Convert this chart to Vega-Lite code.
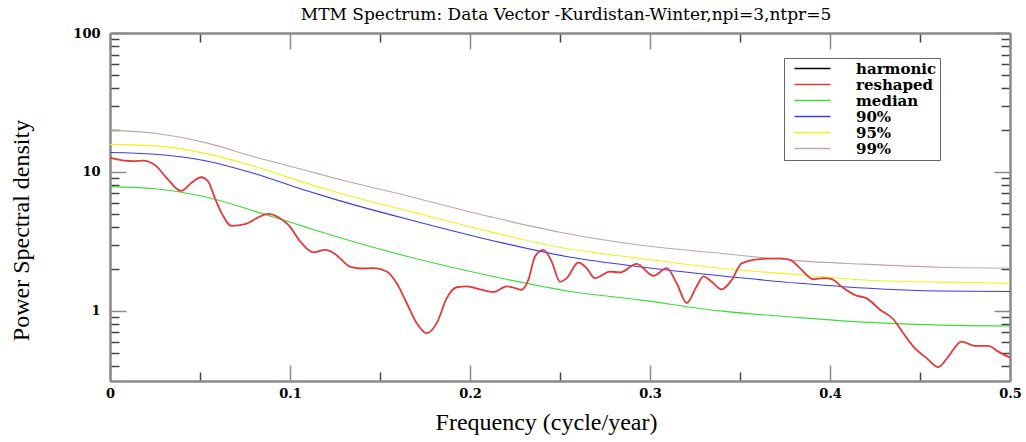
{
  "$schema": "https://vega.github.io/schema/vega-lite/v6.json",
  "width": 900,
  "height": 348,
  "autosize": {"type": "none"},
  "padding": {"left": 110, "top": 33, "right": 16, "bottom": 61},
  "background": "white",
  "title": {
    "text": "MTM Spectrum: Data Vector -Kurdistan-Winter,npi=3,ntpr=5",
    "font": "DejaVu Serif",
    "fontSize": 17,
    "fontWeight": "normal",
    "color": "#000",
    "anchor": "middle",
    "frame": "group",
    "baseline": "alphabetic",
    "offset": 11,
    "dx": 6,
    "dy": 21
  },
  "config": {"view": {"stroke": null}},
  "datasets": {
    "spec": [
      {"s": "99%", "f": 0, "v": 20.0},
      {"s": "99%", "f": 0.025, "v": 19.0},
      {"s": "99%", "f": 0.053, "v": 16.25},
      {"s": "99%", "f": 0.081, "v": 12.76},
      {"s": "99%", "f": 0.108, "v": 10.33},
      {"s": "99%", "f": 0.125, "v": 9.0},
      {"s": "99%", "f": 0.167, "v": 6.64},
      {"s": "99%", "f": 0.211, "v": 4.77},
      {"s": "99%", "f": 0.25, "v": 3.68},
      {"s": "99%", "f": 0.294, "v": 2.98},
      {"s": "99%", "f": 0.339, "v": 2.6},
      {"s": "99%", "f": 0.383, "v": 2.29},
      {"s": "99%", "f": 0.419, "v": 2.17},
      {"s": "99%", "f": 0.461, "v": 2.06},
      {"s": "99%", "f": 0.5, "v": 2.03},
      {"s": "95%", "f": 0, "v": 15.8},
      {"s": "95%", "f": 0.025, "v": 15.4},
      {"s": "95%", "f": 0.053, "v": 13.6},
      {"s": "95%", "f": 0.081, "v": 10.9},
      {"s": "95%", "f": 0.108, "v": 8.38},
      {"s": "95%", "f": 0.125, "v": 7.2},
      {"s": "95%", "f": 0.167, "v": 5.18},
      {"s": "95%", "f": 0.211, "v": 3.72},
      {"s": "95%", "f": 0.25, "v": 2.87},
      {"s": "95%", "f": 0.294, "v": 2.39},
      {"s": "95%", "f": 0.339, "v": 2.03},
      {"s": "95%", "f": 0.383, "v": 1.82},
      {"s": "95%", "f": 0.419, "v": 1.67},
      {"s": "95%", "f": 0.461, "v": 1.61},
      {"s": "95%", "f": 0.5, "v": 1.58},
      {"s": "90%", "f": 0, "v": 13.8},
      {"s": "90%", "f": 0.025, "v": 13.4},
      {"s": "90%", "f": 0.053, "v": 12.05},
      {"s": "90%", "f": 0.081, "v": 9.68},
      {"s": "90%", "f": 0.108, "v": 7.42},
      {"s": "90%", "f": 0.125, "v": 6.35},
      {"s": "90%", "f": 0.167, "v": 4.51},
      {"s": "90%", "f": 0.211, "v": 3.24},
      {"s": "90%", "f": 0.256, "v": 2.43},
      {"s": "90%", "f": 0.294, "v": 2.08},
      {"s": "90%", "f": 0.339, "v": 1.79},
      {"s": "90%", "f": 0.383, "v": 1.58},
      {"s": "90%", "f": 0.419, "v": 1.46},
      {"s": "90%", "f": 0.461, "v": 1.39},
      {"s": "90%", "f": 0.5, "v": 1.38},
      {"s": "median", "f": 0, "v": 7.84},
      {"s": "median", "f": 0.025, "v": 7.58},
      {"s": "median", "f": 0.053, "v": 6.64},
      {"s": "median", "f": 0.081, "v": 5.18},
      {"s": "median", "f": 0.108, "v": 4.04},
      {"s": "median", "f": 0.125, "v": 3.45},
      {"s": "median", "f": 0.167, "v": 2.43},
      {"s": "median", "f": 0.211, "v": 1.79},
      {"s": "median", "f": 0.256, "v": 1.38},
      {"s": "median", "f": 0.294, "v": 1.2},
      {"s": "median", "f": 0.339, "v": 1.0},
      {"s": "median", "f": 0.383, "v": 0.895},
      {"s": "median", "f": 0.419, "v": 0.83},
      {"s": "median", "f": 0.461, "v": 0.79},
      {"s": "median", "f": 0.5, "v": 0.78},
      {"s": "reshaped", "f": 0, "v": 12.7},
      {"s": "reshaped", "f": 0.0083, "v": 12.05},
      {"s": "reshaped", "f": 0.013, "v": 11.95},
      {"s": "reshaped", "f": 0.0185, "v": 12.05},
      {"s": "reshaped", "f": 0.025, "v": 11.2},
      {"s": "reshaped", "f": 0.0324, "v": 8.76},
      {"s": "reshaped", "f": 0.0394, "v": 7.3},
      {"s": "reshaped", "f": 0.0454, "v": 8.38},
      {"s": "reshaped", "f": 0.0506, "v": 9.16},
      {"s": "reshaped", "f": 0.0546, "v": 8.51},
      {"s": "reshaped", "f": 0.0583, "v": 6.47},
      {"s": "reshaped", "f": 0.062, "v": 5.05},
      {"s": "reshaped", "f": 0.0676, "v": 4.09},
      {"s": "reshaped", "f": 0.075, "v": 4.21},
      {"s": "reshaped", "f": 0.0824, "v": 4.72},
      {"s": "reshaped", "f": 0.088, "v": 4.99},
      {"s": "reshaped", "f": 0.0935, "v": 4.72},
      {"s": "reshaped", "f": 0.0991, "v": 4.16},
      {"s": "reshaped", "f": 0.1065, "v": 3.07},
      {"s": "reshaped", "f": 0.113, "v": 2.64},
      {"s": "reshaped", "f": 0.1194, "v": 2.75},
      {"s": "reshaped", "f": 0.125, "v": 2.57},
      {"s": "reshaped", "f": 0.1278, "v": 2.39},
      {"s": "reshaped", "f": 0.1333, "v": 2.08},
      {"s": "reshaped", "f": 0.1389, "v": 2.02},
      {"s": "reshaped", "f": 0.1463, "v": 2.03},
      {"s": "reshaped", "f": 0.1537, "v": 1.92},
      {"s": "reshaped", "f": 0.1593, "v": 1.58},
      {"s": "reshaped", "f": 0.1648, "v": 1.14},
      {"s": "reshaped", "f": 0.1704, "v": 0.816},
      {"s": "reshaped", "f": 0.1759, "v": 0.691},
      {"s": "reshaped", "f": 0.1815, "v": 0.816},
      {"s": "reshaped", "f": 0.187, "v": 1.23},
      {"s": "reshaped", "f": 0.1926, "v": 1.48},
      {"s": "reshaped", "f": 0.1981, "v": 1.5},
      {"s": "reshaped", "f": 0.2056, "v": 1.43},
      {"s": "reshaped", "f": 0.213, "v": 1.37},
      {"s": "reshaped", "f": 0.2204, "v": 1.5},
      {"s": "reshaped", "f": 0.225, "v": 1.46},
      {"s": "reshaped", "f": 0.2287, "v": 1.42},
      {"s": "reshaped", "f": 0.2324, "v": 1.67},
      {"s": "reshaped", "f": 0.2361, "v": 2.46},
      {"s": "reshaped", "f": 0.2407, "v": 2.75},
      {"s": "reshaped", "f": 0.2454, "v": 2.26},
      {"s": "reshaped", "f": 0.25, "v": 1.62},
      {"s": "reshaped", "f": 0.2537, "v": 1.72},
      {"s": "reshaped", "f": 0.2602, "v": 2.23},
      {"s": "reshaped", "f": 0.2648, "v": 2.03},
      {"s": "reshaped", "f": 0.2694, "v": 1.72},
      {"s": "reshaped", "f": 0.2778, "v": 1.92},
      {"s": "reshaped", "f": 0.2833, "v": 1.89},
      {"s": "reshaped", "f": 0.2926, "v": 2.18},
      {"s": "reshaped", "f": 0.3019, "v": 1.79},
      {"s": "reshaped", "f": 0.3093, "v": 2.03},
      {"s": "reshaped", "f": 0.3148, "v": 1.58},
      {"s": "reshaped", "f": 0.3204, "v": 1.14},
      {"s": "reshaped", "f": 0.3259, "v": 1.5},
      {"s": "reshaped", "f": 0.3296, "v": 1.77},
      {"s": "reshaped", "f": 0.3343, "v": 1.62},
      {"s": "reshaped", "f": 0.3398, "v": 1.43},
      {"s": "reshaped", "f": 0.3454, "v": 1.67},
      {"s": "reshaped", "f": 0.3509, "v": 2.2},
      {"s": "reshaped", "f": 0.3611, "v": 2.36},
      {"s": "reshaped", "f": 0.3722, "v": 2.39},
      {"s": "reshaped", "f": 0.3778, "v": 2.33},
      {"s": "reshaped", "f": 0.3833, "v": 2.03},
      {"s": "reshaped", "f": 0.3907, "v": 1.69},
      {"s": "reshaped", "f": 0.3963, "v": 1.72},
      {"s": "reshaped", "f": 0.4009, "v": 1.69},
      {"s": "reshaped", "f": 0.4074, "v": 1.46},
      {"s": "reshaped", "f": 0.4139, "v": 1.3},
      {"s": "reshaped", "f": 0.4204, "v": 1.23},
      {"s": "reshaped", "f": 0.4278, "v": 1.02},
      {"s": "reshaped", "f": 0.4352, "v": 0.871},
      {"s": "reshaped", "f": 0.4407, "v": 0.691},
      {"s": "reshaped", "f": 0.4463, "v": 0.554},
      {"s": "reshaped", "f": 0.4537, "v": 0.457},
      {"s": "reshaped", "f": 0.4602, "v": 0.394},
      {"s": "reshaped", "f": 0.4657, "v": 0.469},
      {"s": "reshaped", "f": 0.4731, "v": 0.601},
      {"s": "reshaped", "f": 0.4806, "v": 0.56},
      {"s": "reshaped", "f": 0.488, "v": 0.56},
      {"s": "reshaped", "f": 0.4935, "v": 0.509},
      {"s": "reshaped", "f": 0.5, "v": 0.46}
    ]
  },
  "data": {"name": "spec"},
  "resolve": {"axis": {"x": "independent", "y": "independent"}},
  "layer": [
    {
      "mark": {"type": "line", "interpolate": "monotone", "clip": true},
      "encoding": {
        "x": {
          "field": "f",
          "type": "quantitative",
          "scale": {"domain": [0, 0.5], "nice": false, "zero": false},
          "axis": {
            "orient": "bottom",
            "values": [0, 0.05, 0.1, 0.15, 0.2, 0.25, 0.3, 0.35, 0.4, 0.45, 0.5],
            "labelExpr": "round(datum.value*20) % 2 == 0 ? format(datum.value, '~g') : ''",
            "tickSize": {"condition": {"test": "round(datum.value*20) % 2 == 0", "value": -16}, "value": -9},
            "tickColor": {"condition": {"test": "round(datum.value*20) % 2 == 0", "value": "#8a8a8a"}, "value": "#444"},
            "tickWidth": 1.5,
            "labelPadding": 22,
            "labelFont": "DejaVu Serif",
            "labelFontWeight": "bold",
            "labelFontSize": 13,
            "labelColor": "#000",
            "labelFlush": false,
            "labelOverlap": false,
            "domainColor": "#8a8a8a",
            "domainWidth": 2.5,
            "grid": false,
            "title": "Frequency (cycle/year)",
            "titleFont": "Liberation Serif",
            "titleFontSize": 24,
            "titleFontWeight": "normal",
            "titleColor": "#000",
            "titleBaseline": "alphabetic",
            "titleX": 436,
            "titleY": 48
          }
        },
        "y": {
          "field": "v",
          "type": "quantitative",
          "scale": {"type": "log", "domain": [0.313, 100], "nice": false},
          "axis": {
            "orient": "left",
            "values": [0.4, 0.5, 0.6, 0.7, 0.8, 0.9, 1, 2, 3, 4, 5, 6, 7, 8, 9, 10, 20, 30, 40, 50, 60, 70, 80, 90, 100],
            "labelExpr": "(datum.value == 1 || datum.value == 10 || datum.value == 100) ? format(datum.value, 'd') : ''",
            "tickSize": {"condition": {"test": "datum.value == 1 || datum.value == 10 || datum.value == 100", "value": -16}, "value": -9},
            "tickColor": {"condition": {"test": "datum.value == 1 || datum.value == 10 || datum.value == 100", "value": "#8a8a8a"}, "value": "#444"},
            "tickWidth": 1.5,
            "labelPadding": 26,
            "labelFont": "DejaVu Serif",
            "labelFontWeight": "bold",
            "labelFontSize": 13,
            "labelColor": "#000",
            "labelFlush": false,
            "labelOverlap": false,
            "domainColor": "#8a8a8a",
            "domainWidth": 2.5,
            "grid": false,
            "title": "Power Spectral density",
            "titleFont": "Liberation Serif",
            "titleFontSize": 24,
            "titleFontWeight": "normal",
            "titleColor": "#000",
            "titleAngle": -90,
            "titleBaseline": "alphabetic",
            "titleAlign": "center",
            "titleX": -82,
            "titleY": 197
          }
        },
        "color": {
          "field": "s",
          "type": "nominal",
          "scale": {
            "domain": ["harmonic", "reshaped", "median", "90%", "95%", "99%"],
            "range": ["#000000", "#e23a3a", "#3ddc3d", "#3b3bf0", "#f2f216", "#c8a2a2"]
          },
          "legend": {
            "orient": "none",
            "legendX": 674,
            "legendY": 25,
            "title": null,
            "symbolType": "M0,0H6",
            "symbolSize": 144,
            "symbolStrokeWidth": 1.3,
            "labelFont": "DejaVu Serif",
            "labelFontWeight": "bold",
            "labelFontSize": 15,
            "labelColor": "#000",
            "labelOffset": 54,
            "labelLimit": 200,
            "padding": 3,
            "rowPadding": -0.6,
            "strokeColor": "#666",
            "fillColor": "white"
          }
        },
        "strokeWidth": {"condition": {"test": "datum.s === 'reshaped'", "value": 1.8}, "value": 1.1}
      }
    },
    {
      "mark": {"type": "line", "opacity": 0},
      "encoding": {
        "x": {
          "field": "f",
          "type": "quantitative",
          "axis": {
            "orient": "top",
            "values": [0, 0.05, 0.1, 0.15, 0.2, 0.25, 0.3, 0.35, 0.4, 0.45, 0.5],
            "labels": false,
            "tickSize": {"condition": {"test": "round(datum.value*20) % 2 == 0", "value": -16}, "value": -9},
            "tickColor": {"condition": {"test": "round(datum.value*20) % 2 == 0", "value": "#8a8a8a"}, "value": "#444"},
            "tickWidth": 1.5,
            "domainColor": "#8a8a8a",
            "domainWidth": 2.5,
            "grid": false,
            "title": null
          }
        },
        "y": {
          "field": "v",
          "type": "quantitative",
          "axis": {
            "orient": "right",
            "values": [0.4, 0.5, 0.6, 0.7, 0.8, 0.9, 1, 2, 3, 4, 5, 6, 7, 8, 9, 10, 20, 30, 40, 50, 60, 70, 80, 90, 100],
            "labels": false,
            "tickSize": {"condition": {"test": "datum.value == 1 || datum.value == 10 || datum.value == 100", "value": -16}, "value": -9},
            "tickColor": {"condition": {"test": "datum.value == 1 || datum.value == 10 || datum.value == 100", "value": "#8a8a8a"}, "value": "#444"},
            "tickWidth": 1.5,
            "domainColor": "#8a8a8a",
            "domainWidth": 2.5,
            "grid": false,
            "title": null
          }
        },
        "detail": {"field": "s", "type": "nominal"}
      }
    }
  ]
}
